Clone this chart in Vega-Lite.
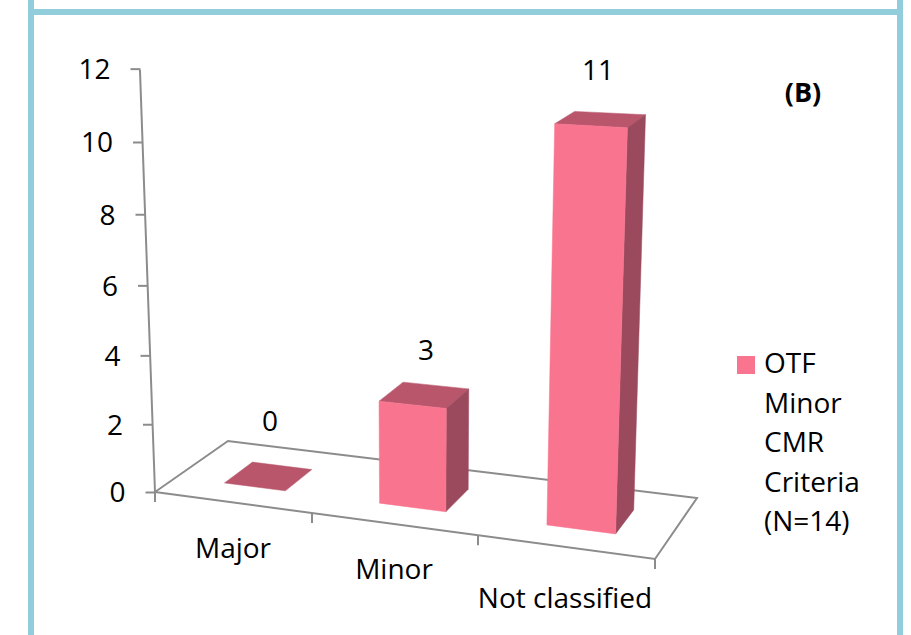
{
  "$schema": "https://vega.github.io/schema/vega-lite/v6.json",
  "width": 911,
  "height": 635,
  "autosize": {"type": "none"},
  "padding": 0,
  "background": "white",
  "datasets": {
    "bars": [
      {"category": "Major", "value": 0, "series": "OTF Minor CMR Criteria (N=14)"},
      {"category": "Minor", "value": 3, "series": "OTF Minor CMR Criteria (N=14)"},
      {"category": "Not classified", "value": 11, "series": "OTF Minor CMR Criteria (N=14)"}
    ],
    "floor": [
      {"n": 0, "t": 0, "z": 0},
      {"n": 1, "t": 1, "z": 0},
      {"n": 2, "t": 1, "z": 1},
      {"n": 3, "t": 0, "z": 1}
    ],
    "edges": [{"t": 0}, {"t": 0.314}, {"t": 0.646}, {"t": 1}],
    "wall": [{"h": 0}, {"h": 12.03}],
    "panel": [{"tag": "(B)"}]
  },
  "config": {
    "view": {"stroke": null},
    "text": {"font": "Open Sans", "fontSize": 28, "color": "black"}
  },
  "encoding": {
    "x": {
      "field": "u",
      "type": "quantitative",
      "scale": {"domain": [-0.31, 1.512], "nice": false, "zero": false},
      "axis": null
    },
    "y": {
      "field": "v",
      "type": "quantitative",
      "scale": {"domain": [-4.0764, 14.025], "nice": false, "zero": false},
      "axis": {
        "title": null,
        "domain": false,
        "grid": false,
        "offset": -155,
        "values": [0, 2, 4, 6, 8, 10, 12],
        "tickColor": "#8c8c8c",
        "tickWidth": 2,
        "tickSize": 10,
        "labelPadding": 20,
        "labelFont": "Open Sans",
        "labelFontSize": 28,
        "labelColor": "black",
        "encoding": {
          "ticks": {
            "x": {"value": {"signal": "-1.25*datum.value"}},
            "x2": {"value": {"signal": "-10-1.25*datum.value"}},
            "y": {"value": {"signal": "scale('y',datum.value)+datum.value*(1.48-0.14*datum.value)"}}
          },
          "labels": {
            "dx": {"value": {"signal": "-1.25*datum.value"}},
            "dy": {"value": {"signal": "2+datum.value*(1.48-0.14*datum.value)"}}
          }
        }
      }
    }
  },
  "layer": [
    {
      "data": {"name": "panel"},
      "transform": [
        {"calculate": "-0.248", "as": "u"},
        {"calculate": "14.025", "as": "v"},
        {"calculate": "-4.0764", "as": "v2"}
      ],
      "mark": {"type": "rule", "stroke": "#92cddc", "strokeWidth": 6},
      "encoding": {"y2": {"field": "v2"}}
    },
    {
      "data": {"name": "panel"},
      "transform": [
        {"calculate": "1.49", "as": "u"},
        {"calculate": "14.025", "as": "v"},
        {"calculate": "-4.0764", "as": "v2"}
      ],
      "mark": {"type": "rule", "stroke": "#92cddc", "strokeWidth": 6},
      "encoding": {"y2": {"field": "v2"}}
    },
    {
      "data": {"name": "panel"},
      "transform": [
        {"calculate": "-0.248", "as": "u"},
        {"calculate": "1.49", "as": "u2"},
        {"calculate": "13.683", "as": "v"}
      ],
      "mark": {"type": "rule", "stroke": "#92cddc", "strokeWidth": 6},
      "encoding": {"x2": {"field": "u2"}}
    },
    {
      "data": {"name": "floor"},
      "transform": [
        {"calculate": "datum.t + datum.z*(0.146-0.062*datum.t)", "as": "u"},
        {"calculate": "-1.91*datum.t + datum.z*(1.454+0.285*datum.t)", "as": "v"}
      ],
      "mark": {"type": "line", "interpolate": "linear-closed", "stroke": "#8c8c8c", "strokeWidth": 2},
      "encoding": {"order": {"field": "n", "type": "quantitative"}}
    },
    {
      "data": {"name": "wall"},
      "transform": [
        {"calculate": "-0.0025*datum.h", "as": "u"},
        {"calculate": "datum.h", "as": "v"}
      ],
      "mark": {"type": "line", "stroke": "#8c8c8c", "strokeWidth": 2},
      "encoding": {"order": {"field": "h", "type": "quantitative"}}
    },
    {
      "data": {"name": "edges"},
      "transform": [
        {"calculate": "datum.t", "as": "u"},
        {"calculate": "-1.91*datum.t", "as": "v"},
        {"calculate": "datum.v-0.285", "as": "v2"}
      ],
      "mark": {"type": "rule", "stroke": "#8c8c8c", "strokeWidth": 2},
      "encoding": {"y2": {"field": "v2"}}
    },
    {
      "data": {"name": "bars"},
      "transform": [
        {"calculate": "indexof(['Major','Minor','Not classified'],datum.category)", "as": "i"},
        {"calculate": "[{f:'top',n:0,r:0,b:1,up:1},{f:'top',n:1,r:1,b:1,up:1},{f:'top',n:2,r:1,b:0,up:1},{f:'top',n:3,r:0,b:0,up:1},{f:'side',n:0,r:1,b:0,up:1},{f:'side',n:1,r:1,b:1,up:1},{f:'side',n:2,r:1,b:1,up:0},{f:'side',n:3,r:1,b:0,up:0},{f:'front',n:0,r:0,b:0,up:1},{f:'front',n:1,r:1,b:0,up:1},{f:'front',n:2,r:1,b:0,up:0},{f:'front',n:3,r:0,b:0,up:0}]", "as": "corner"},
        {"flatten": ["corner"]},
        {"calculate": "datum.corner.f", "as": "face"},
        {"calculate": "datum.corner.n", "as": "n"},
        {"calculate": "datum.corner.r ? ([0.221,0.548,0.894])[datum.i] : ([0.097,0.413,0.754])[datum.i]", "as": "t"},
        {"calculate": "datum.corner.b ? 0.7 : 0.3", "as": "z"},
        {"calculate": "datum.corner.up*datum.value", "as": "h"},
        {"calculate": "datum.t + datum.z*(0.146-0.062*datum.t) + datum.h*(-0.0025+0.0052*datum.t)", "as": "u"},
        {"calculate": "-1.91*datum.t + datum.z*(1.454+0.285*datum.t) + datum.h*(0.9367+0.094*datum.t-0.0713*datum.z+0.00485*datum.h)", "as": "v"}
      ],
      "layer": [
        {
          "transform": [{"filter": "datum.face==='top'"}],
          "mark": {"type": "line", "interpolate": "linear-closed", "fill": "#b9566c", "stroke": "#b9566c", "strokeWidth": 0.5},
          "encoding": {"detail": {"field": "category"}, "order": {"field": "n", "type": "quantitative"}}
        },
        {
          "transform": [{"filter": "datum.face==='side' && datum.value>0"}],
          "mark": {"type": "line", "interpolate": "linear-closed", "fill": "#9b4a5e", "stroke": "#9b4a5e", "strokeWidth": 0.5},
          "encoding": {"detail": {"field": "category"}, "order": {"field": "n", "type": "quantitative"}}
        },
        {
          "transform": [{"filter": "datum.face==='front' && datum.value>0"}],
          "mark": {"type": "line", "interpolate": "linear-closed", "stroke": "#f9748f", "strokeWidth": 0.5},
          "encoding": {
            "detail": {"field": "category"},
            "order": {"field": "n", "type": "quantitative"},
            "fill": {
              "field": "series",
              "type": "nominal",
              "scale": {"range": ["#f9748f"]},
              "legend": {
                "title": null,
                "orient": "none",
                "legendX": 732,
                "legendY": 351,
                "symbolType": "square",
                "symbolSize": 324,
                "symbolStrokeWidth": 0,
                "labelFont": "Open Sans",
                "labelFontSize": 28,
                "labelColor": "black",
                "labelOffset": 4,
                "labelLimit": 200,
                "labelExpr": "split(datum.label,' ')",
                "encoding": {"labels": {"lineHeight": {"value": 39.5}}}
              }
            }
          }
        }
      ]
    },
    {
      "data": {"name": "bars"},
      "transform": [
        {"calculate": "indexof(['Major','Minor','Not classified'],datum.category)", "as": "i"},
        {"calculate": "(([270,426,598])[datum.i]-155)/500", "as": "u"},
        {"calculate": "(492-([423,352,72])[datum.i])/35.08", "as": "v"}
      ],
      "mark": {"type": "text", "align": "center", "baseline": "middle"},
      "encoding": {"text": {"field": "value", "type": "quantitative"}}
    },
    {
      "data": {"name": "bars"},
      "transform": [
        {"calculate": "indexof(['Major','Minor','Not classified'],datum.category)", "as": "i"},
        {"calculate": "([0.156,0.478,0.82])[datum.i]", "as": "u"},
        {"calculate": "([-1.653,-2.252,-3.078])[datum.i]", "as": "v"}
      ],
      "mark": {"type": "text", "align": "center", "baseline": "middle"},
      "encoding": {"text": {"field": "category", "type": "nominal"}}
    },
    {
      "data": {"name": "panel"},
      "transform": [
        {"calculate": "1.296", "as": "u"},
        {"calculate": "11.345", "as": "v"}
      ],
      "mark": {"type": "text", "align": "center", "baseline": "middle", "fontWeight": "bold", "fontSize": 27},
      "encoding": {"text": {"field": "tag", "type": "nominal"}}
    }
  ]
}
